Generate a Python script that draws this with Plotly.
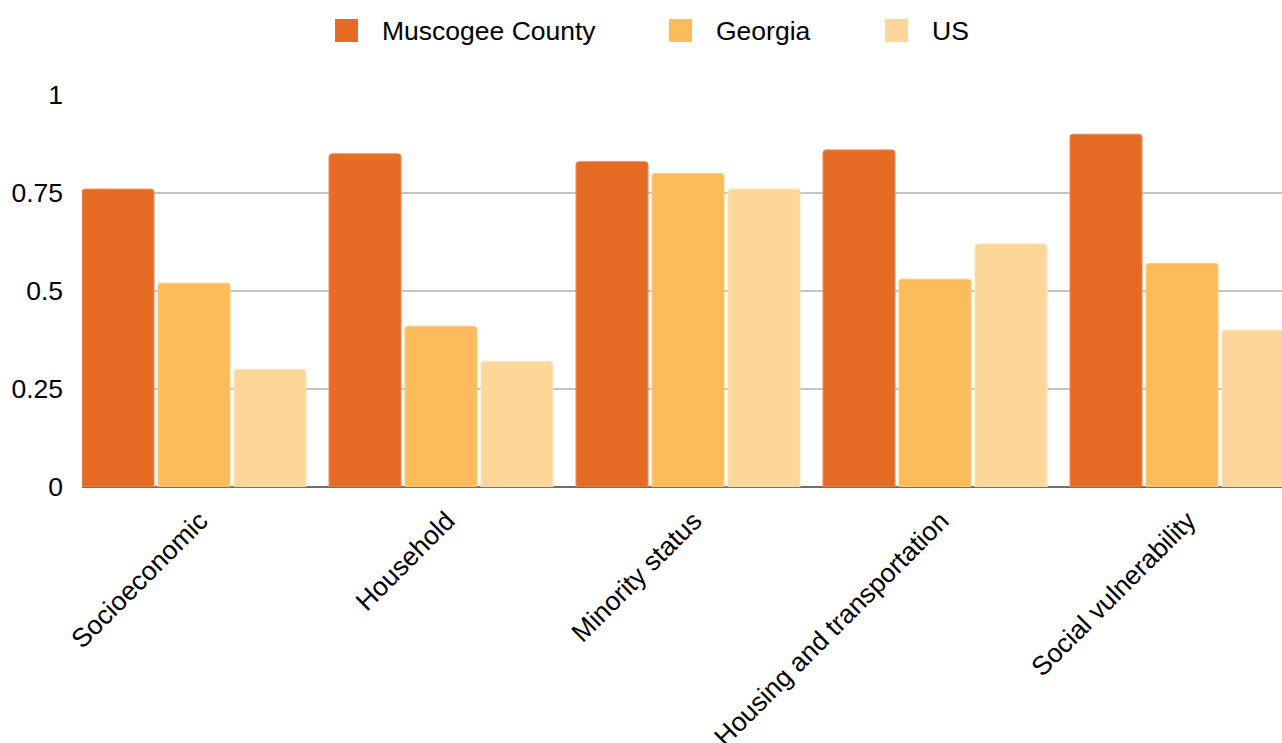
import plotly.graph_objects as go

categories = ["Socioeconomic", "Household", "Minority status",
              "Housing and transportation", "Social vulnerability"]
series_names = ["Muscogee County", "Georgia", "US"]
muscogee = [0.76, 0.85, 0.83, 0.86, 0.90]
georgia = [0.52, 0.41, 0.80, 0.53, 0.57]
us = [0.30, 0.32, 0.76, 0.62, 0.40]
y_ticks = [0, 0.25, 0.5, 0.75, 1]
y_tick_labels = ["0", "0.25", "0.5", "0.75", "1"]

colors = ["#E66C26", "#FDBC5B", "#FDD699"]
edge_colors = ["#EE8A52", "#FDCB82", "#FEE2B6"]

FONT = "Liberation Sans, Arial, sans-serif"
FS = 26.5
W, H = 1282, 743
L, R, T, B = 82, 0, 95, 256
plot_w = W - L - R
plot_h = H - T - B

# grouped bars: slot of one category is 247 px wide, each bar 72 px, 4 px apart
slot_px = 247.0
bar_w = 72.0 / slot_px
step = 76.0 / slot_px
first_off = -112.0 / slot_px
x_lo = first_off
x_hi = x_lo + plot_w / slot_px

fig = go.Figure()
idx = list(range(len(categories)))
for k, (name, vals) in enumerate(zip(series_names, [muscogee, georgia, us])):
    fig.add_trace(go.Bar(
        x=idx, y=vals, name=name,
        width=bar_w, offset=first_off + k * step,
        marker=dict(color=colors[k], line=dict(color=edge_colors[k], width=1)),
        showlegend=False,
    ))

# legend: squares with labels across the top
def px_to_paper_x(px):
    return (px - L) / plot_w

def px_to_paper_y(py):
    return (T + plot_h - py) / plot_h

legend_sq = [335, 669, 885]
sq = 23
sq_top = 19
for k, name in enumerate(series_names):
    x0 = px_to_paper_x(legend_sq[k])
    x1 = px_to_paper_x(legend_sq[k] + sq)
    y0 = px_to_paper_y(sq_top + sq)
    y1 = px_to_paper_y(sq_top)
    fig.add_shape(type="rect", xref="paper", yref="paper",
                  x0=x0, x1=x1, y0=y0, y1=y1,
                  fillcolor=colors[k], line=dict(width=0))
    fig.add_annotation(xref="paper", yref="paper",
                       x=px_to_paper_x(legend_sq[k] + 45), y=px_to_paper_y(31),
                       xanchor="left", yanchor="middle", showarrow=False,
                       text=name, font=dict(family=FONT, size=FS, color="#000000"))

fig.update_layout(
    width=W, height=H,
    margin=dict(l=L, r=R, t=T, b=B, pad=0),
    paper_bgcolor="white", plot_bgcolor="white",
    barmode="overlay",
    barcornerradius=3,
    showlegend=False,
    font=dict(family=FONT, size=FS, color="#000000"),
)
fig.update_xaxes(
    range=[x_lo, x_hi], automargin=False,
    tickmode="array", tickvals=idx, ticktext=categories,
    tickangle=-45, ticks="", showgrid=False, showline=False, zeroline=False,
    ticklabelstandoff=12, ticklabelshift=6,
    tickfont=dict(family=FONT, size=FS, color="#000000"),
)
fig.update_yaxes(
    range=[0, 1], automargin=False,
    tickmode="array", tickvals=y_ticks, ticktext=y_tick_labels,
    showgrid=True, gridcolor="#C4C4C4", gridwidth=1.5,
    zeroline=True, zerolinecolor="#6E6E6E", zerolinewidth=1.5,
    showline=False, ticks="", ticklabelstandoff=18,
    tickfont=dict(family=FONT, size=FS, color="#000000"),
)

fig.write_html("out.html")
